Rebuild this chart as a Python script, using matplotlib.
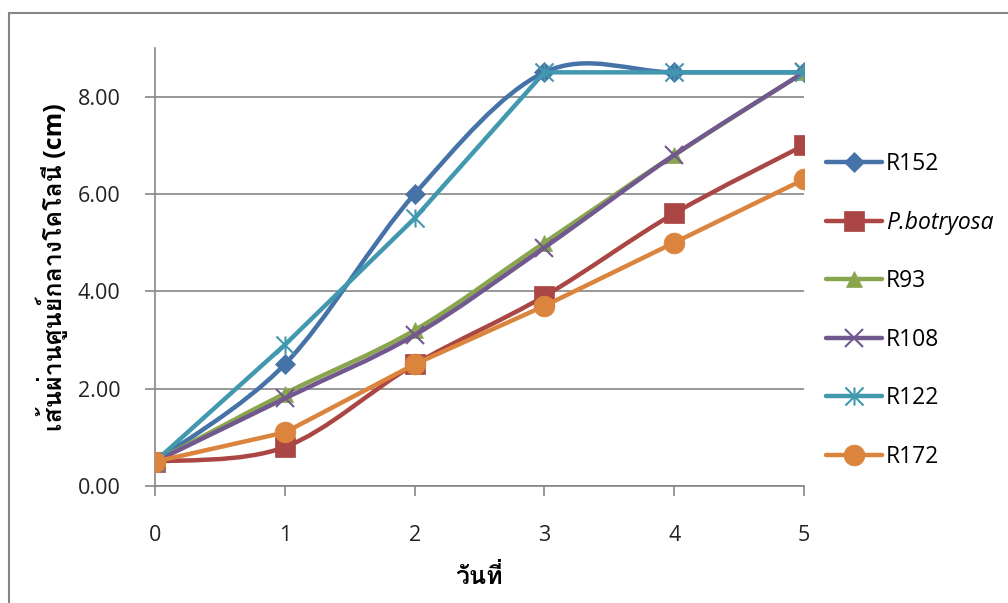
import matplotlib
matplotlib.use("Agg")
import matplotlib.pyplot as plt
from matplotlib.path import Path
from matplotlib.patches import PathPatch, Rectangle
from matplotlib.lines import Line2D
from matplotlib import font_manager
from matplotlib.ft2font import FT2Font
import numpy as np

days = [0, 1, 2, 3, 4, 5]
series_names = ["R152", "P.botryosa", "R93", "R108", "R122", "R172"]
r152 = [0.5, 2.5, 6.0, 8.5, 8.5, 8.5]
p_botryosa = [0.5, 0.8, 2.5, 3.9, 5.6, 7.0]
r93 = [0.5, 1.9, 3.2, 5.0, 6.8, 8.5]
r108 = [0.5, 1.8, 3.1, 4.9, 6.8, 8.5]
r122 = [0.5, 2.9, 5.5, 8.5, 8.5, 8.5]
r172 = [0.5, 1.1, 2.5, 3.7, 5.0, 6.3]
y_ticks = [0, 2, 4, 6, 8]
x_label = "วันที่"
y_label = "เส้นผ่านศูนย์กลางโคโลนี (cm)"

colors = ["#4572A7", "#AA4643", "#89A54E", "#71588F", "#4198AF", "#DB843D"]
smoothed = [True, True, True, True, False, False]

# asterisk marker: an x with a vertical bar through it
star = Path([(-0.5, -0.5), (0.5, 0.5), (-0.5, 0.5), (0.5, -0.5), (0, -0.5), (0, 0.5)],
            [Path.MOVETO, Path.LINETO, Path.MOVETO, Path.LINETO, Path.MOVETO, Path.LINETO])
markers = ["D", "s", "^", "x", star, "o"]
msizes = [10, 14, 12, 13, 13, 15]


def find_thai_font():
    for f in font_manager.fontManager.ttflist:
        try:
            if ord("ว") in FT2Font(f.fname).get_charmap():
                return f.name
        except Exception:
            pass
    return "DejaVu Sans"


thai = find_thai_font()
plt.rcParams["font.family"] = ["Open Sans", thai, "DejaVu Sans"]


def line_path(xs, ys, smooth):
    # Catmull-Rom style bezier through the points, like spreadsheet smoothed lines
    pts = np.column_stack([xs, ys]).astype(float)
    if not smooth:
        return Path(pts)
    n = len(pts)
    verts = [pts[0]]
    codes = [Path.MOVETO]
    for i in range(n - 1):
        p_prev = pts[max(i - 1, 0)]
        p0 = pts[i]
        p1 = pts[i + 1]
        p_next = pts[min(i + 2, n - 1)]
        c1 = p0 + (p1 - p_prev) / 6.0
        c2 = p1 - (p_next - p0) / 6.0
        verts += [c1, c2, p1]
        codes += [Path.CURVE4] * 3
    return Path(verts, codes)


fig = plt.figure(figsize=(10.08, 6.03), dpi=100)
fig.patches.append(Rectangle((9 / 1008, -0.1), 1.2, 1 - 13 / 603 + 0.1, transform=fig.transFigure,
                             fill=False, edgecolor="#868686", linewidth=1.5))
ax = fig.add_axes([155 / 1008, 117 / 603, 649 / 1008, 438 / 603])

data = [r152, p_botryosa, r93, r108, r122, r172]
handles = []
for i, values in enumerate(data):
    ax.add_patch(PathPatch(line_path(days, values, smoothed[i]), facecolor="none",
                           edgecolor=colors[i], linewidth=3.2, capstyle="round",
                           joinstyle="round", zorder=3 + i))
    thin = markers[i] == "x" or markers[i] is star
    ax.plot(days, values, linestyle="none", marker=markers[i], markersize=msizes[i],
            color=colors[i], markeredgewidth=1.5 if thin else 0.5, zorder=3 + i)
    handles.append(Line2D([], [], color=colors[i], linewidth=3.2, marker=markers[i],
                          markersize=msizes[i], markeredgewidth=1.5 if thin else 0.5,
                          solid_capstyle="round"))

ax.set_xlim(0, 5)
ax.set_ylim(0, 9)
ax.set_xticks(days)
ax.set_yticks(y_ticks)
ax.set_yticklabels([f"{v:.2f}" for v in y_ticks])
ax.yaxis.grid(True, color="#868686", linewidth=1.2)
ax.set_axisbelow(True)
for side in ["top", "right"]:
    ax.spines[side].set_visible(False)
for side in ["left", "bottom"]:
    ax.spines[side].set_color("#868686")
    ax.spines[side].set_linewidth(1.2)
ax.tick_params(axis="both", colors="#868686", length=7, width=1.2, labelsize=15.5,
               labelcolor="#222222")
ax.tick_params(axis="y", pad=18)
ax.tick_params(axis="x", pad=21)

ax.set_xlabel(x_label, fontsize=18, fontweight="bold", labelpad=14)
ax.set_ylabel(y_label, fontsize=18, fontweight="bold", labelpad=7)

leg = fig.legend(handles, series_names, loc="upper left", bbox_to_anchor=(826 / 1008, 1 - 152 / 603),
                 frameon=False, fontsize=16.5, handlelength=2.45, handletextpad=0.17,
                 labelspacing=1.51, borderpad=0, borderaxespad=0)
leg.get_texts()[1].set_fontstyle("italic")

fig.savefig("out.png", dpi=100)
